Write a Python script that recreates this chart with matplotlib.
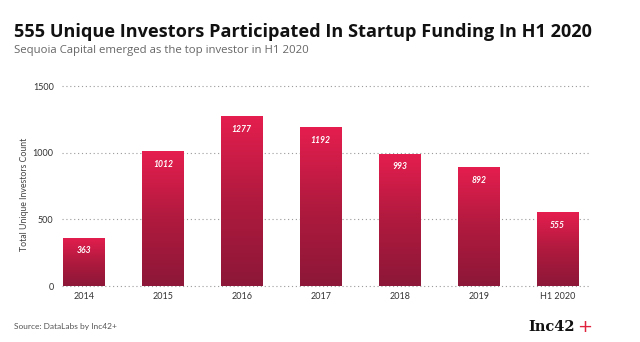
import numpy as np
import matplotlib
matplotlib.use("Agg")
import matplotlib.pyplot as plt
from matplotlib.colors import LinearSegmentedColormap

categories = ["2014", "2015", "2016", "2017", "2018", "2019", "H1 2020"]
values = [363, 1012, 1277, 1192, 993, 892, 555]
yticks = [0, 500, 1000, 1500]

title = "555 Unique Investors Participated In Startup Funding In H1 2020"
subtitle = "Sequoia Capital emerged as the top investor in H1 2020"
ylabel = "Total Unique Investors Count"
source = "Source: DataLabs by Inc42+"

W, H = 640, 342
fig = plt.figure(figsize=(W / 100, H / 100), dpi=100)
fig.patch.set_facecolor("white")

ax = fig.add_axes([62 / W, 1 - 286 / H, (590 - 62) / W, (286 - 86) / H])
x = np.arange(len(categories))

for y in yticks:
    ax.axhline(y, color="#9a9a9a", lw=0.8, ls=(0, (1, 2.5)), zorder=0, clip_on=False)

cmap = LinearSegmentedColormap.from_list("g", ["#8c1738", "#b01a3e", "#e51e4f"])
grad = np.linspace(0, 1, 256).reshape(-1, 1)
bars = ax.bar(x, values, width=0.52, color="none", edgecolor="none", zorder=2)
for b, v in zip(bars, values):
    x0, w = b.get_x(), b.get_width()
    im = ax.imshow(grad, cmap=cmap, origin="lower", aspect="auto",
                   extent=[x0, x0 + w, 0, v], zorder=2)
    im.set_clip_path(b)
    ax.text(x0 + w / 2, v - 100, f"{v}", ha="center", va="center", color="white",
            fontsize=6.2, fontweight="bold", style="italic", family="Lato", zorder=3)
ax.set_xlim(-0.275, 6.41)
ax.set_ylim(0, 1500)

ax.set_xticks(x)
ax.set_xticklabels(categories, family="Lato", fontsize=6.5, color="#333333")
ax.set_yticks(yticks)
ax.set_yticklabels([str(t) for t in yticks], family="Lato", fontsize=6.5, color="#333333")
ax.tick_params(length=0, pad=4)
ax.tick_params(axis="y", pad=6)
for s in ax.spines.values():
    s.set_visible(False)
ax.set_ylabel(ylabel, family="Lato", fontsize=6.3, color="#444444")
ax.yaxis.set_label_coords(-0.062, 0.46)

fig.text(14 / W, 1 - 32 / H, title, ha="left", va="center", fontsize=13.1,
         fontweight="bold", family="Open Sans", color="#111111")
fig.text(14 / W, 1 - 51 / H, subtitle, ha="left", va="center", fontsize=8.2,
         family="Open Sans", color="#666666")
fig.text(14 / W, 1 - 327 / H, source, ha="left", va="center", fontsize=6,
         family="Lato", color="#555555")
fig.text(575 / W, 1 - 327 / H, "Inc42", ha="right", va="center", fontsize=10.5,
         fontweight="bold", family="DejaVu Serif", color="#111111")
fig.text(577 / W, 1 - 327 / H, "+", ha="left", va="center", fontsize=13,
         family="DejaVu Sans", color="#e0223f")

fig.savefig("out.png", dpi=100, facecolor="white")
